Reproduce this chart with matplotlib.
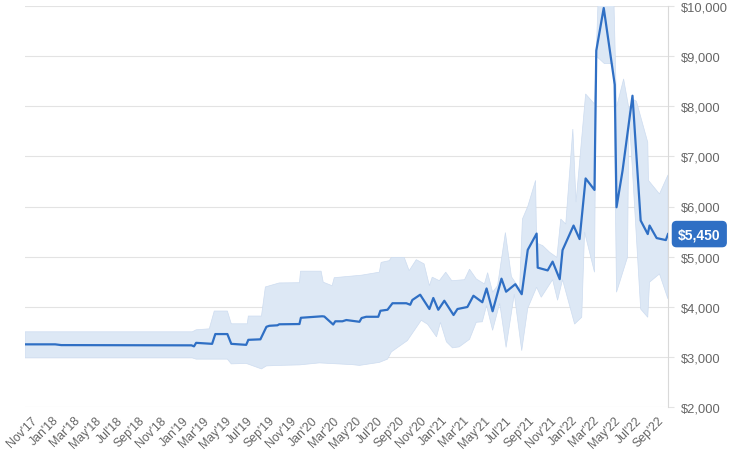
import matplotlib
matplotlib.use("Agg")
import matplotlib.pyplot as plt
import matplotlib.dates as mdates
import matplotlib.ticker as mticker
import numpy as np
import pandas as pd

plt.rcParams['font.family'] = ['Liberation Sans', 'DejaVu Sans']

# ---- price line ----
line_dates = ["2017-10-15", "2018-01-08", "2018-01-25", "2019-01-27", "2019-02-03", "2019-02-09",
              "2019-03-26", "2019-04-04", "2019-05-08", "2019-05-19", "2019-06-30", "2019-07-06",
              "2019-08-09", "2019-08-26", "2019-09-03", "2019-09-26", "2019-10-01", "2019-11-27",
              "2019-12-01", "2020-01-30", "2020-02-05", "2020-03-01", "2020-03-07", "2020-03-27",
              "2020-04-07", "2020-05-14", "2020-05-20", "2020-06-02", "2020-07-06", "2020-07-12",
              "2020-08-01", "2020-08-15", "2020-09-23", "2020-10-04", "2020-10-10", "2020-11-01",
              "2020-11-27", "2020-12-08", "2020-12-22", "2021-01-08", "2021-02-03", "2021-02-14",
              "2021-03-14", "2021-03-31", "2021-04-25", "2021-05-07", "2021-05-24", "2021-06-18",
              "2021-07-01", "2021-07-27", "2021-08-14", "2021-08-31", "2021-09-25", "2021-09-28",
              "2021-10-26", "2021-11-09", "2021-11-29", "2021-12-07", "2022-01-07", "2022-01-24",
              "2022-02-10", "2022-03-07", "2022-03-12", "2022-04-02", "2022-05-03", "2022-05-08",
              "2022-05-25", "2022-06-22", "2022-07-15", "2022-08-04", "2022-08-09", "2022-08-29",
              "2022-09-24", "2022-09-30"]
line_values = [3250, 3250, 3235, 3230, 3210, 3280,
               3260, 3455, 3455, 3260, 3240, 3340,
               3350, 3600, 3620, 3630, 3650, 3655,
               3780, 3810, 3805, 3645, 3710, 3710,
               3735, 3700, 3775, 3800, 3800, 3920,
               3940, 4070, 4070, 4040, 4135, 4240,
               3955, 4175, 3940, 4120, 3835, 3955,
               3995, 4220, 4090, 4365, 3910, 4560,
               4300, 4450, 4250, 5135, 5460, 4780,
               4725, 4900, 4550, 5130, 5620, 5350,
               6560, 6330, 9110, 9960, 8430, 5985,
               6715, 8210, 5720, 5450, 5620, 5370,
               5330, 5450]

# ---- range band: upper edge ----
upper_dates = ["2017-10-15", "2019-01-29", "2019-02-09", "2019-03-18", "2019-04-01", "2019-05-08",
               "2019-05-19", "2019-07-03", "2019-07-06", "2019-08-12", "2019-08-23", "2019-10-01",
               "2019-11-27", "2019-11-30", "2020-01-27", "2020-02-02", "2020-02-27", "2020-03-04",
               "2020-05-20", "2020-07-09", "2020-07-14", "2020-08-06", "2020-08-12", "2020-09-17",
               "2020-10-01", "2020-10-21", "2020-11-12", "2020-11-27", "2020-12-05", "2020-12-25",
               "2021-01-12", "2021-01-29", "2021-03-06", "2021-03-20", "2021-04-08", "2021-05-01",
               "2021-05-10", "2021-05-24", "2021-06-07", "2021-06-29", "2021-07-16", "2021-08-08",
               "2021-08-16", "2021-08-31", "2021-09-22", "2021-09-25", "2021-10-12", "2021-11-01",
               "2021-11-21", "2021-12-02", "2021-12-16", "2022-01-05", "2022-01-14", "2022-02-10",
               "2022-03-07", "2022-03-18", "2022-04-02", "2022-04-04", "2022-04-30", "2022-05-08",
               "2022-05-28", "2022-06-12", "2022-06-25", "2022-07-03", "2022-08-04", "2022-08-06",
               "2022-09-06", "2022-09-30"]
upper_values = [3500, 3500, 3540, 3560, 3915, 3915,
                3660, 3660, 3815, 3815, 4395, 4475,
                4480, 4710, 4710, 4490, 4420, 4580,
                4630, 4690, 4885, 4920, 4985, 4985,
                4720, 4940, 4855, 4420, 4590, 4520,
                4690, 4520, 4540, 4750, 4555, 4455,
                4680, 4290, 4420, 5480, 4600, 4355,
                5750, 6000, 6520, 5270, 5220, 5085,
                4985, 5750, 5650, 7545, 6090, 8245,
                8045, 10300, 10300, 10300, 10300, 7980,
                8545, 7950, 8130, 8100, 7280, 6520,
                6250, 6630]

# ---- range band: lower edge ----
lower_dates = ["2017-10-15", "2019-01-29", "2019-02-09", "2019-05-08", "2019-05-19", "2019-06-30",
               "2019-08-12", "2019-08-26", "2019-10-01", "2019-11-27", "2020-01-22", "2020-04-24",
               "2020-05-14", "2020-07-09", "2020-08-01", "2020-08-12", "2020-09-26", "2020-11-04",
               "2020-11-22", "2020-12-17", "2020-12-28", "2021-01-14", "2021-01-31", "2021-02-19",
               "2021-03-20", "2021-04-08", "2021-04-25", "2021-05-07", "2021-05-24", "2021-06-13",
               "2021-07-01", "2021-07-24", "2021-08-14", "2021-08-31", "2021-09-25", "2021-10-08",
               "2021-11-09", "2021-11-23", "2021-12-07", "2022-01-10", "2022-01-30", "2022-02-07",
               "2022-03-07", "2022-03-12", "2022-04-04", "2022-04-30", "2022-05-08", "2022-06-08",
               "2022-06-12", "2022-07-15", "2022-08-04", "2022-08-09", "2022-09-06", "2022-09-30"]
lower_values = [2980, 2980, 2955, 2955, 2860, 2870,
                2760, 2820, 2830, 2840, 2880, 2845,
                2830, 2890, 2955, 3100, 3325, 3730,
                3650, 3400, 3690, 3300, 3180, 3200,
                3350, 3690, 3700, 4025, 3530, 4070,
                3190, 4250, 3125, 3970, 4390, 4190,
                4540, 4130, 4540, 3655, 3790, 5490,
                4690, 9000, 8850, 8850, 4290, 4990,
                7900, 3955, 3790, 4490, 4655, 4155]

y_ticks = [2000, 3000, 4000, 5000, 6000, 7000, 8000, 9000, 10000]
last_label = "$5,450"

blue = '#2f6fc4'
band_fill = '#dde8f5'
band_edge = '#cddcf0'
grid_c = '#e3e3e3'
text_c = '#666666'

ld = mdates.date2num(pd.to_datetime(line_dates))
ud = mdates.date2num(pd.to_datetime(upper_dates))
lwd = mdates.date2num(pd.to_datetime(lower_dates))

fig = plt.figure(figsize=(7.3, 4.56), dpi=100)
ax = fig.add_axes([25 / 730, 1 - 408 / 456, (668 - 25) / 730, (408 - 7) / 456])

poly_x = np.concatenate([ud, lwd[::-1]])
poly_y = np.concatenate([upper_values, lower_values[::-1]])
ax.fill(poly_x, poly_y, facecolor=band_fill, edgecolor=band_edge, linewidth=0.5, zorder=2)
ax.plot(ld, line_values, color=blue, linewidth=1.6, zorder=3, solid_joinstyle='round')

ax.set_xlim(ld[0], ld[-1])
ax.set_ylim(2000, 10000)

ax.yaxis.tick_right()
ax.set_yticks(y_ticks)
ax.yaxis.set_major_formatter(mticker.FuncFormatter(lambda v, p: f"${v:,.0f}"))
ax.tick_params(axis='y', length=4, color=grid_c, pad=5, labelsize=9.3, labelcolor=text_c)
ax.grid(axis='y', color=grid_c, linewidth=0.8, zorder=0)
ax.set_axisbelow(True)

ax.xaxis.set_major_locator(mdates.MonthLocator(bymonth=[1, 3, 5, 7, 9, 11]))
ax.xaxis.set_major_formatter(mdates.DateFormatter("%b'%y"))
ax.tick_params(axis='x', length=0, pad=5, labelsize=8.8, labelcolor=text_c)
for lbl in ax.get_xticklabels():
    lbl.set_rotation(45)
    lbl.set_ha('right')
    lbl.set_va('top')
    lbl.set_rotation_mode('anchor')

for s in ['left', 'top', 'bottom']:
    ax.spines[s].set_visible(False)
ax.spines['right'].set_color('#d9d9d9')
ax.spines['right'].set_linewidth(0.8)

ax.annotate(last_label, xy=(1, line_values[-1]), xycoords=('axes fraction', 'data'),
            xytext=(10, 0), textcoords='offset pixels', ha='left', va='center',
            color='white', fontsize=10, fontweight='bold', zorder=5,
            bbox=dict(boxstyle='round,pad=0.4,rounding_size=0.3', fc=blue, ec=blue))

fig.savefig('out.png', dpi=100)
